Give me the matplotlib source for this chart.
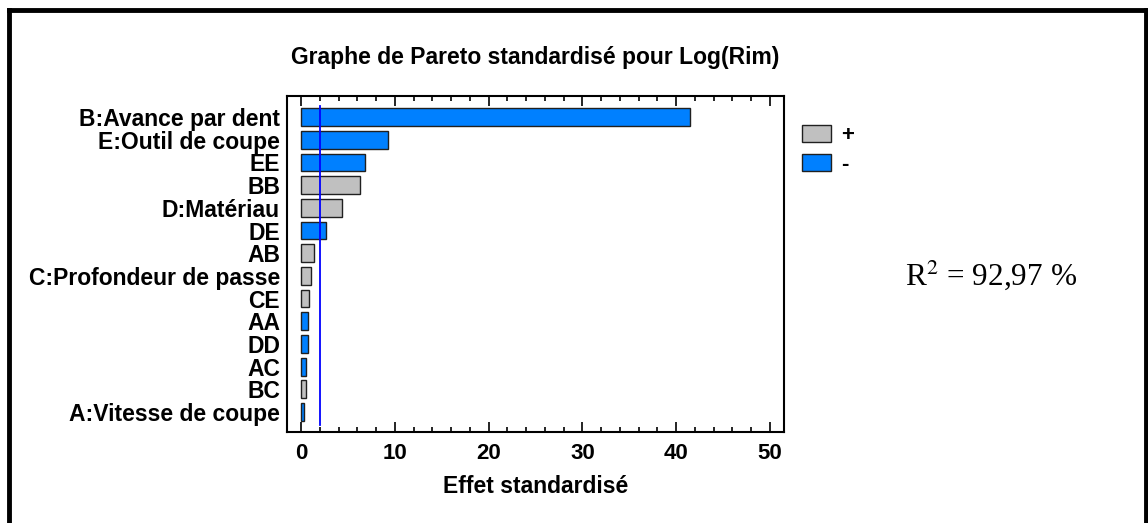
import numpy as np
import matplotlib
matplotlib.use("Agg")
from matplotlib import pyplot as plt
from matplotlib.patches import Patch
from matplotlib.lines import Line2D

# data (top to bottom)
factors = ["B:Avance par dent", "E:Outil de coupe", "EE", "BB", "D:Matériau",
           "DE", "AB", "C:Profondeur de passe", "CE", "AA", "DD", "AC", "BC",
           "A:Vitesse de coupe"]
effects = [41.5, 9.3, 6.8, 6.25, 4.35, 2.65, 1.35, 1.1, 0.85, 0.78, 0.78, 0.5, 0.5, 0.35]
signs = ["-", "-", "-", "+", "+", "-", "+", "+", "+", "-", "-", "-", "+", "-"]
critical = 1.98
r2_text = "92,97 %"

blue = "#0080ff"
grey = "#c0c0c0"
colors = [blue if s == "-" else grey for s in signs]

plt.rcParams['font.family'] = ['Liberation Sans', 'DejaVu Sans']
plt.rcParams['mathtext.fontset'] = 'stix'

fig = plt.figure(figsize=(11.48, 5.23), dpi=100)
ax = fig.add_axes([0.25, 0.174, 0.433, 0.6425])

y = np.arange(len(factors))
ax.barh(y, effects, height=0.78, color=colors, edgecolor="#202020", linewidth=1)
ax.axvline(critical, color="#0000ff", lw=1.3, ymin=0.02, ymax=0.97)

ax.set_ylim(len(factors) - 1 + 0.88, -0.93)
ax.set_xlim(-1.5, 51.5)
ax.set_yticks(y)
ax.set_yticklabels(factors, fontsize=16.5, fontweight="bold")
ax.tick_params(axis="y", length=0, pad=5)
ax.set_xticks(np.arange(0, 51, 10))
ax.set_xticks(np.arange(0, 51, 2), minor=True)
ax.tick_params(axis="x", which="both", direction="in", top=True, labelsize=16, width=1.2)
ax.tick_params(axis="x", which="major", length=7, pad=8)
ax.tick_params(axis="x", which="minor", length=3.5)
for lab in ax.get_xticklabels():
    lab.set_fontweight("bold")
for sp in ax.spines.values():
    sp.set_linewidth(1.5)

ax.set_xlabel("Effet standardisé", fontsize=16.5, fontweight="bold", labelpad=8)
ax.set_title("Graphe de Pareto standardisé pour Log(Rim)", fontsize=16.5,
             fontweight="bold", pad=23)

handles = [Patch(facecolor=grey, edgecolor="#202020", label="+"),
           Patch(facecolor=blue, edgecolor="#202020", label="-")]
leg = fig.legend(handles=handles, loc="upper left", bbox_to_anchor=(0.689, 0.782),
                 frameon=False, borderpad=0, handlelength=1.3, handleheight=0.82,
                 handletextpad=0.45, labelspacing=0.33,
                 prop={"weight": "bold", "size": 16})

fig.text(0.788, 0.474, r"R$^2$ = " + r2_text, fontsize=22.5,
         family=["Liberation Serif", "DejaVu Serif"], va="center")

# outer frame (no bottom edge visible)
for xs, ys in [([0.008, 0.008], [0.0, 0.981]), ([0.008, 0.9985], [0.981, 0.981]),
               ([0.9985, 0.9985], [0.0, 0.981])]:
    fig.add_artist(Line2D(xs, ys, color="black", lw=3.5, transform=fig.transFigure))

fig.savefig("out.png", dpi=100)
